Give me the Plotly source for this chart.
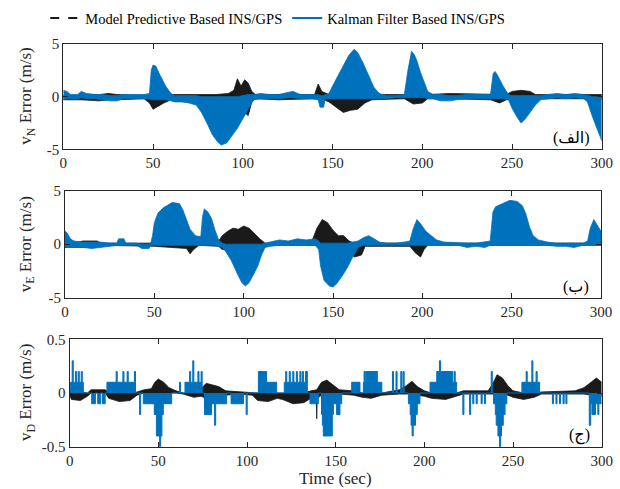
import plotly.graph_objects as go

# ---------------- data ----------------
# Panel 1: v_N error envelopes (time, upper, lower)
tN_kf = [0, 2, 4, 8, 10, 13, 18, 22, 26, 30, 33, 40, 45, 48, 49, 50, 51.5, 54, 57, 60, 62, 66, 70, 74, 77, 80, 83, 86, 88, 91, 94, 97, 100, 103, 106, 110, 115, 120, 125, 128, 132, 138, 142, 143, 145, 146, 148, 150, 153, 156, 159, 162, 164, 167, 170, 173, 176, 180, 185, 190, 192, 194, 195.5, 197, 199, 201, 203, 206, 210, 215, 219, 225, 230, 235, 238, 239.5, 240.5, 242, 245, 248, 250, 253, 255, 257, 260, 263, 266, 270, 275, 280, 285, 290, 292, 295, 298, 300]
vN_kf_hi = [0.6, 0.5, 0.2, 0.2, 0.5, 0.3, 0.2, 0.2, 0.1, 0.1, 0.2, 0.2, 0.2, 0.3, 2.5, 3.0, 2.9, 2.0, 1.0, 0.3, 0.1, 0.1, 0.1, 0.1, 0.0, 0.0, 0.0, 0.0, 0.0, 0.0, 0.0, 0.0, 0.1, 0.2, 0.2, 0.3, 0.2, 0.2, 0.4, 0.5, 0.2, 0.2, 0.2, 0.1, 0.1, 0.2, 0.3, 1.0, 2.0, 3.0, 3.9, 4.5, 4.2, 3.2, 2.0, 0.9, 0.3, 0.1, 0.1, 0.2, 2.5, 4.3, 4.0, 3.4, 2.3, 1.3, 0.5, 0.2, 0.2, 0.1, 0.1, 0.2, 0.2, 0.2, 0.2, 2.2, 2.4, 2.0, 1.0, 0.2, 0.1, 0.1, 0.1, 0.1, 0.1, 0.1, 0.1, 0.2, 0.3, 0.2, 0.3, 0.2, 0.1, 0.0, 0.0, 0.0]
vN_kf_lo = [-0.3, -0.2, -0.2, -0.2, -0.1, -0.2, -0.2, -0.3, -0.4, -0.4, -0.2, -0.2, -0.2, -0.2, -0.3, -0.3, -0.3, -0.3, -0.3, -0.4, -0.5, -0.5, -0.6, -0.8, -1.5, -2.5, -3.6, -4.3, -4.6, -4.4, -3.7, -3.0, -2.1, -1.2, -0.3, -0.2, -0.2, -0.2, -0.1, -0.1, -0.2, -0.2, -0.3, -1.0, -1.0, -0.2, -0.2, -0.2, -0.2, -0.2, -0.2, -0.2, -0.2, -0.2, -0.2, -0.2, -0.2, -0.2, -0.1, -0.1, -0.1, -0.1, -0.1, -0.1, -0.1, -0.1, -0.2, -0.2, -0.4, -0.4, -0.3, -0.2, -0.2, -0.2, -0.2, -0.2, -0.2, -0.2, -0.2, -0.3, -1.1, -2.0, -2.5, -2.2, -1.5, -0.8, -0.3, -0.2, -0.1, -0.2, -0.1, -0.2, -0.5, -2.0, -3.3, -4.2]

tN_mp = [0, 10, 20, 25, 30, 45, 48, 50, 53, 56, 60, 70, 85, 92, 95, 97, 99, 101, 103, 105, 107, 120, 140, 142, 144, 148, 152, 156, 160, 164, 168, 172, 190, 195, 200, 203, 215, 238, 243, 247, 250, 255, 260, 263, 300]
vN_mp_hi = [0.1, 0.1, 0.2, 0.3, 0.2, 0.1, 0.2, 0.2, 0.2, 0.2, 0.2, 0.2, 0.2, 0.3, 0.6, 1.7, 1.0, 1.6, 1.3, 0.5, 0.2, 0.2, 0.2, 1.2, 0.5, 0.2, 0.1, 0.1, 0.1, 0.1, 0.1, 0.2, 0.2, 0.2, 0.2, 0.2, 0.3, 0.2, 0.2, 0.2, 0.5, 0.6, 0.5, 0.2, 0.2]
vN_mp_lo = [-0.3, -0.3, -0.4, -0.3, -0.3, -0.2, -0.6, -1.2, -0.9, -0.6, -0.3, -0.2, -0.3, -0.4, -0.3, -0.3, -0.5, -1.5, -1.8, -0.5, -0.2, -0.3, -0.2, -0.2, -0.2, -0.5, -1.0, -1.5, -1.3, -1.2, -0.6, -0.3, -0.2, -0.7, -0.6, -0.2, -0.2, -0.3, -0.6, -0.3, -0.2, -0.2, -0.2, -0.2, -0.2]

# Panel 2: v_E error envelopes
tE_kf = [0, 1, 3, 5, 10, 15, 20, 25, 29, 30, 33, 34, 40, 43, 47, 48, 49, 50, 52, 55, 58, 60, 64, 66, 68, 70, 73, 76, 77, 78, 80, 82, 84, 86, 88, 90, 93, 96, 99, 101, 103, 105, 108, 110, 112, 115, 120, 125, 130, 135, 140, 142, 143, 145, 148, 150, 152, 155, 158, 161, 164, 167, 170, 173, 176, 180, 185, 190, 193, 195, 197, 199, 202, 205, 208, 212, 220, 225, 230, 235, 238, 239.5, 241, 245, 249, 253, 256, 258, 260, 262, 265, 270, 275, 280, 285, 290, 292.5, 294, 296, 298, 300]
vE_kf_hi = [1.2, 1.1, 0.5, 0.3, 0.2, 0.2, 0.2, 0.1, 0.1, 0.5, 0.5, 0.1, 0.1, 0.0, 0.0, 0.1, 0.8, 2.0, 2.9, 3.4, 3.7, 3.9, 3.8, 3.2, 2.3, 1.4, 0.8, 0.7, 2.6, 3.3, 3.0, 2.4, 1.3, 0.4, 0.1, 0.0, 0.0, 0.0, 0.0, 0.0, 0.0, 0.0, 0.0, 0.0, 0.1, 0.2, 0.4, 0.3, 0.5, 0.4, 0.5, 0.3, 0.1, 0.1, 0.1, 0.1, 0.1, 0.1, 0.1, 0.2, 0.3, 0.6, 0.8, 0.5, 0.2, 0.1, 0.1, 0.2, 0.3, 1.5, 2.3, 1.9, 1.2, 0.8, 0.4, 0.2, 0.1, 0.1, 0.1, 0.2, 0.3, 3.0, 3.5, 3.8, 4.1, 4.0, 3.6, 2.8, 1.6, 0.8, 0.4, 0.2, 0.1, 0.1, 0.1, 0.1, 0.3, 1.5, 2.3, 1.8, 1.2]
vE_kf_lo = [-0.2, -0.3, -0.3, -0.3, -0.3, -0.4, -0.3, -0.2, -0.1, -0.1, -0.1, -0.1, -0.1, -0.4, -0.4, -0.1, -0.1, -0.1, -0.1, -0.1, -0.1, -0.1, -0.1, -0.1, -0.1, -0.1, -0.1, -0.1, -0.1, -0.1, -0.1, -0.1, -0.1, -0.2, -0.3, -0.7, -1.5, -2.6, -3.6, -3.9, -3.6, -3.0, -2.0, -1.0, -0.3, -0.2, -0.1, -0.1, -0.1, -0.1, -0.1, -0.5, -2.0, -3.4, -3.9, -4.0, -3.7, -3.0, -2.2, -1.2, -0.3, -0.1, -0.1, -0.1, -0.1, -0.1, -0.1, -0.1, -0.1, -0.1, -0.1, -0.1, -0.1, -0.1, -0.1, -0.1, -0.1, -0.3, -0.2, -0.3, -0.1, -0.1, -0.1, -0.1, -0.1, -0.1, -0.1, -0.1, -0.1, -0.1, -0.1, -0.1, -0.2, -0.2, -0.3, -0.1, -0.1, -0.1, -0.1, -0.1, -0.1]

tE_mp = [0, 5, 10, 18, 20, 50, 68, 70, 72, 75, 86, 88, 91, 94, 97, 100, 103, 106, 109, 112, 138, 141, 144, 147, 150, 153, 156, 159, 162, 166, 168, 193, 196, 199, 201, 203, 300]
vE_mp_hi = [0.3, 0.1, 0.3, 0.3, 0.1, 0.1, 0.1, 0.1, 0.1, 0.1, 0.3, 0.8, 1.2, 1.5, 1.4, 1.7, 1.5, 1.0, 0.5, 0.1, 0.2, 1.5, 2.3, 2.0, 1.3, 0.8, 0.8, 0.3, 0.1, 0.1, 0.1, 0.1, 0.1, 0.1, 0.1, 0.1, 0.1]
vE_mp_lo = [-0.3, -0.3, -0.3, -0.2, -0.1, -0.2, -0.4, -0.9, -0.5, -0.1, -0.2, -0.5, -0.4, -0.3, -0.2, -0.2, -0.2, -0.2, -0.2, -0.1, -0.1, -0.1, -0.1, -0.1, -0.1, -0.2, -0.4, -0.8, -1.2, -1.0, -0.2, -0.2, -0.8, -1.2, -0.5, -0.1, -0.1]

# Panel 3: v_D error. Kalman filter: quantised step signal (value holds until next time)
tD_kf = [0, 0.5, 1.4, 2.0, 3.3, 3.9, 4.8, 5.4, 6.5, 7.1, 7.7, 12.4, 14.5, 15.8, 17.5, 18.5, 20.0, 21.0, 26.2, 26.8, 30.0, 30.6, 32.4, 33.0, 36.5, 37.1, 39.4, 40.0, 41.5, 47.7, 48.9, 50.7, 51.3, 52.0, 52.8, 57.5, 61.9, 62.5, 65.0, 67.6, 68.2, 69.4, 70.0, 72.3, 72.9, 74.1, 74.7, 76.0, 80.0, 81.7, 82.3, 88.5, 91.0, 98.0, 99.5, 100.1, 106.4, 111.0, 116.7, 121.0, 121.8, 122.4, 123.8, 124.4, 125.8, 126.4, 127.8, 128.4, 129.8, 130.4, 131.2, 131.8, 133.0, 134.0, 135.5, 140.2, 142.0, 142.5, 143.0, 148.1, 148.7, 150.5, 152.4, 153.4, 159.0, 163.7, 165.6, 166.0, 166.6, 167.0, 173.5, 176.0, 182.0, 182.6, 184.0, 184.6, 186.7, 187.3, 188.0, 188.6, 191.0, 192.0, 192.5, 193.1, 193.7, 195.0, 196.0, 197.5, 203.2, 207.0, 208.5, 209.1, 216.0, 216.8, 217.4, 218.2, 221.7, 222.3, 225.5, 226.1, 227.3, 227.9, 229.2, 229.8, 232.0, 232.6, 233.9, 234.5, 237.7, 238.3, 239.0, 240.0, 240.5, 241.5, 242.4, 243.0, 243.5, 244.5, 245.5, 246.5, 255.0, 257.4, 258.0, 260.6, 261.2, 263.0, 263.6, 265.0, 272.2, 272.8, 274.2, 274.8, 276.2, 276.8, 278.2, 278.8, 279.8, 280.4, 293.0, 293.8, 294.5, 296.5, 297.8, 298.4, 300]
vD_kf = [0, 0.1, 0.3, 0.1, 0.2, 0.1, 0.2, 0.1, 0.2, 0.1, 0, -0.1, 0, -0.1, 0, -0.1, 0, 0.1, 0.2, 0.1, 0.2, 0.1, 0.2, 0.1, 0.2, 0, -0.2, 0, -0.1, -0.2, -0.4, -0.5, -0.4, -0.2, -0.1, 0, 0.1, 0, 0.1, 0.2, 0.1, 0.3, 0.1, 0.2, 0.1, 0.2, 0, -0.2, -0.1, -0.3, -0.1, 0, -0.1, 0, -0.2, 0, 0.2, 0.1, 0, 0.1, 0.2, 0.1, 0.2, 0.1, 0.2, 0.1, 0.2, 0.1, 0.2, 0.1, 0.2, 0.1, 0.2, 0, -0.1, 0, -0.2, -0.3, -0.4, -0.2, -0.1, -0.2, -0.1, 0, 0.1, 0, 0.1, 0.2, 0.1, 0.2, 0.1, 0, 0.2, 0, 0.2, 0, 0.2, 0, 0.2, 0, -0.1, -0.2, -0.3, -0.4, -0.3, -0.2, -0.1, 0, 0.1, 0.2, 0.3, 0.2, 0.1, 0.2, 0.1, 0, -0.2, 0, -0.2, 0, -0.1, 0, -0.1, 0, -0.1, 0, -0.1, 0, 0.2, 0, -0.1, -0.2, -0.3, -0.4, -0.5, -0.4, -0.3, -0.2, -0.1, 0, 0.1, 0.2, 0.1, 0.3, 0.1, 0.2, 0.1, 0, -0.1, 0, -0.1, 0, -0.1, 0, -0.1, 0, -0.1, 0, -0.3, -0.1, -0.2, -0.1, -0.2, -0.1, -0.1]

tD_mp = [0, 1, 6, 10, 12, 20, 22, 28, 34, 38, 42, 46, 48, 50, 53, 56, 60, 64, 70, 74, 77, 80, 84, 88, 95, 103, 106, 112, 117, 120, 126, 132, 136, 139, 139.3, 139.6, 142, 145, 148, 152, 160, 165, 170, 176, 186, 190, 193, 196, 200, 204, 212, 218, 222, 236, 239, 241, 244, 247, 250, 256, 262, 266, 285, 290, 294, 297, 300]
vD_mp_hi = [0.01, 0.02, 0.01, 0.0, 0.03, 0.03, 0.01, 0.0, 0.0, 0.01, 0.03, 0.04, 0.10, 0.13, 0.10, 0.05, 0.02, 0.0, 0.0, 0.04, 0.09, 0.08, 0.06, 0.02, 0.01, 0.0, 0.0, 0.0, 0.0, 0.0, 0.0, 0.0, 0.02, 0.03, 0.03, 0.04, 0.10, 0.12, 0.08, 0.03, 0.02, 0.0, 0.0, 0.0, 0.03, 0.07, 0.11, 0.06, 0.02, 0.0, 0.0, 0.0, 0.02, 0.02, 0.10, 0.17, 0.14, 0.07, 0.02, 0.0, 0.0, 0.01, 0.02, 0.05, 0.10, 0.14, 0.10]
vD_mp_lo = [-0.02, -0.06, -0.07, -0.03, 0.0, 0.0, -0.05, -0.08, -0.07, -0.02, 0.0, 0.0, 0.0, 0.0, 0.0, 0.0, 0.0, -0.01, -0.04, -0.03, -0.05, -0.07, -0.06, -0.02, -0.01, -0.02, -0.07, -0.08, -0.05, -0.06, -0.10, -0.09, -0.05, -0.05, -0.24, -0.05, -0.02, -0.01, -0.01, -0.01, -0.02, -0.04, -0.05, -0.02, -0.01, -0.01, -0.01, -0.02, -0.03, -0.05, -0.06, -0.03, -0.01, -0.01, -0.01, -0.01, -0.01, -0.02, -0.04, -0.06, -0.04, -0.01, -0.01, -0.01, -0.02, -0.03, -0.03]

x_ticks = [0, 50, 100, 150, 200, 250, 300]
y_ticks_NE = [-5, 0, 5]
y_ticklabels_NE = ["-5", "0", "5"]
y_ticks_D = [-0.5, 0, 0.5]
y_ticklabels_D = ["-0.5", "0", "0.5"]

name_mp = "Model Predictive Based INS/GPS"
name_kf = "Kalman Filter Based INS/GPS"
panel_labels = ["(الف)", "(ب)", "(ج)"]
y_titles = ["v<sub>N</sub> Error (m/s)", "v<sub>E</sub> Error (m/s)", "v<sub>D</sub> Error (m/s)"]

# ---------------- figure ----------------
BLUE = "#0072BD"
BLACK = "#1a1a1a"
AX = "#262626"
FONT = "Liberation Serif, Times New Roman, DejaVu Serif, serif"

fig = go.Figure()

def band(t, hi, lo, color, xa, ya):
    fig.add_trace(go.Scatter(x=t, y=hi, mode="lines", line=dict(color=color, width=0.8),
                             xaxis=xa, yaxis=ya, showlegend=False, hoverinfo="skip"))
    fig.add_trace(go.Scatter(x=t, y=lo, mode="lines", line=dict(color=color, width=0.8),
                             fill="tonexty", fillcolor=color,
                             xaxis=xa, yaxis=ya, showlegend=False, hoverinfo="skip"))

band(tN_mp, vN_mp_hi, vN_mp_lo, BLACK, "x", "y")
band(tN_kf, vN_kf_hi, vN_kf_lo, BLUE, "x", "y")
band(tE_mp, vE_mp_hi, vE_mp_lo, BLACK, "x2", "y2")
band(tE_kf, vE_kf_hi, vE_kf_lo, BLUE, "x2", "y2")
band(tD_mp, vD_mp_hi, vD_mp_lo, BLACK, "x3", "y3")
fig.add_trace(go.Scatter(x=tD_kf, y=vD_kf, mode="lines", line=dict(color=BLUE, width=1, shape="hv"),
                         fill="tozeroy", fillcolor=BLUE, xaxis="x3", yaxis="y3",
                         showlegend=False, hoverinfo="skip"))

# legend entries
fig.add_trace(go.Scatter(x=[None], y=[None], mode="lines", name=name_mp,
                         line=dict(color=BLACK, width=2, dash="dash")))
fig.add_trace(go.Scatter(x=[None], y=[None], mode="lines", name=name_kf,
                         line=dict(color=BLUE, width=2)))

W, H = 620, 489
panels = [  # (x0, x1, ytop, ybottom) in pixels
    (63.3, 601.8, 44.0, 149.3),
    (65.0, 601.0, 190.7, 297.7),
    (69.7, 601.7, 339.3, 446.7),
]

axis_common = dict(showline=True, linecolor=AX, linewidth=1.2, mirror="ticks",
                   ticks="inside", ticklen=5, tickwidth=1, tickcolor=AX,
                   showgrid=False, zeroline=False, automargin=False,
                   tickfont=dict(family=FONT, size=15, color=AX))

layout = dict(width=W, height=H, margin=dict(l=0, r=0, t=0, b=0),
              paper_bgcolor="white", plot_bgcolor="white",
              font=dict(family=FONT, size=15, color=AX),
              showlegend=True,
              legend=dict(orientation="h", x=0.073, y=1 - 18 / H, xanchor="left", yanchor="middle",
                          font=dict(family=FONT, size=14.5, color="black"), traceorder="normal",
                          bgcolor="rgba(0,0,0,0)", itemwidth=30, tracegroupgap=0))

annotations = []
for i, (x0, x1, yt, yb) in enumerate(panels):
    sfx = "" if i == 0 else str(i + 1)
    xd = [x0 / W, x1 / W]
    yd = [1 - yb / H, 1 - yt / H]
    layout["xaxis" + sfx] = dict(domain=xd, range=[0, 300], tickvals=x_ticks,
                                 anchor="y" + sfx, **axis_common)
    if i < 2:
        layout["yaxis" + sfx] = dict(domain=yd, range=[-5, 5], tickvals=y_ticks_NE,
                                     ticktext=y_ticklabels_NE, anchor="x" + sfx, **axis_common)
    else:
        layout["yaxis" + sfx] = dict(domain=yd, range=[-0.5, 0.5], tickvals=y_ticks_D,
                                     ticktext=y_ticklabels_D, anchor="x" + sfx, **axis_common)
    annotations.append(dict(x=27 / W, y=1 - (yt + yb) / 2 / H, xref="paper", yref="paper",
                            text=y_titles[i], textangle=-90, showarrow=False,
                            font=dict(family=FONT, size=17, color=AX),
                            xanchor="center", yanchor="middle"))
    annotations.append(dict(x=(x1 - 10) / W, y=1 - (yb - 11) / H, xref="paper", yref="paper",
                            text=panel_labels[i], showarrow=False,
                            font=dict(family="Liberation Serif, DejaVu Sans, serif", size=16, color="black"),
                            xanchor="right", yanchor="middle"))

annotations.append(dict(x=335 / W, y=1 - 478 / H, xref="paper", yref="paper", text="Time (sec)",
                        showarrow=False, font=dict(family=FONT, size=17, color=AX),
                        xanchor="center", yanchor="middle"))
layout["annotations"] = annotations

fig.update_layout(**layout)
fig.write_html("out.html")
